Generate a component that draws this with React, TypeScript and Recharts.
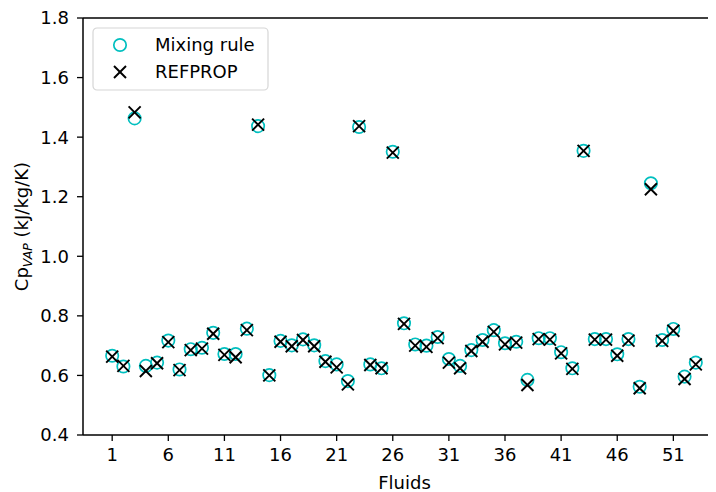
import React from "react";
import { ScatterChart, Scatter, XAxis, YAxis, ReferenceLine } from "recharts";

const fluids = [1, 2, 3, 4, 5, 6, 7, 8, 9, 10, 11, 12, 13, 14, 15, 16, 17, 18, 19, 20, 21, 22, 23, 24, 25, 26, 27, 28, 29, 30, 31, 32, 33, 34, 35, 36, 37, 38, 39, 40, 41, 42, 43, 44, 45, 46, 47, 48, 49, 50, 51, 52, 53];
const mixingRule = [0.666, 0.630, 1.463, 0.632, 0.643, 0.717, 0.620, 0.688, 0.693, 0.743, 0.672, 0.672, 0.757, 1.437, 0.601, 0.716, 0.701, 0.721, 0.701, 0.648, 0.637, 0.581, 1.434, 0.637, 0.624, 1.351, 0.775, 0.704, 0.700, 0.729, 0.655, 0.632, 0.685, 0.719, 0.752, 0.708, 0.713, 0.585, 0.725, 0.725, 0.678, 0.624, 1.354, 0.722, 0.722, 0.671, 0.722, 0.562, 1.245, 0.719, 0.756, 0.596, 0.643];
const refprop = [0.663, 0.632, 1.483, 0.615, 0.641, 0.712, 0.618, 0.685, 0.690, 0.740, 0.669, 0.661, 0.752, 1.442, 0.600, 0.713, 0.698, 0.719, 0.698, 0.646, 0.627, 0.570, 1.437, 0.635, 0.624, 1.348, 0.773, 0.700, 0.696, 0.725, 0.643, 0.624, 0.682, 0.713, 0.746, 0.704, 0.710, 0.568, 0.722, 0.720, 0.674, 0.622, 1.354, 0.720, 0.720, 0.666, 0.717, 0.557, 1.225, 0.716, 0.750, 0.588, 0.637];
const xTicks = [1, 6, 11, 16, 21, 26, 31, 36, 41, 46, 51];
const yTicks = [0.4, 0.6, 0.8, 1.0, 1.2, 1.4, 1.6, 1.8];

const mixingData = fluids.map((f, i) => ({ x: f, y: mixingRule[i] }));
const refpropData = fluids.map((f, i) => ({ x: f, y: refprop[i] }));

const FONT = "'DejaVu Sans', sans-serif";
const CYAN = "#00bfbf";

const CircleShape = (props: any) => {
  const { cx, cy } = props;
  if (cx == null || cy == null) return null;
  return <circle cx={cx} cy={cy} r={6.2} fill="none" stroke={CYAN} strokeWidth={1.7} />;
};

const CrossShape = (props: any) => {
  const { cx, cy } = props;
  if (cx == null || cy == null) return null;
  const h = 6;
  return (
    <g stroke="#000" strokeWidth={1.9}>
      <line x1={cx - h} y1={cy - h} x2={cx + h} y2={cy + h} />
      <line x1={cx - h} y1={cy + h} x2={cx + h} y2={cy - h} />
    </g>
  );
};

const YLabel = (props: any) => {
  const vb = props.viewBox || { x: 0, y: 10, width: 75, height: 417 };
  const cx = 19.5;
  const cy = vb.y + vb.height / 2;
  return (
    <text
      x={cx}
      y={cy}
      transform={`rotate(-90, ${cx}, ${cy})`}
      textAnchor="middle"
      fontFamily={FONT}
      fontSize={18}
      fill="#000"
    >
      <tspan>Cp</tspan>
      <tspan fontSize={12.6} fontStyle="italic" dy={4}>VAP</tspan>
      <tspan dy={-4}> (kJ/kg/K)</tspan>
    </text>
  );
};

const XLabel = (props: any) => {
  const vb = props.viewBox || { x: 75, y: 427, width: 633, height: 57 };
  return (
    <text x={vb.x + 321.5} y={481} textAnchor="middle" fontFamily={FONT} fontSize={18} fill="#000">
      Fluids
    </text>
  );
};

const LegendBox = () => (
  <svg
    width={178}
    height={66}
    style={{ position: "absolute", left: 84, top: 19, overflow: "visible" }}
  >
    <rect x={1} y={1} width={175} height={62} rx={4} ry={4} fill="rgba(255,255,255,0.85)" stroke="#d6d6d6" strokeWidth={1.2} />
    <circle cx={28} cy={18} r={6.2} fill="none" stroke={CYAN} strokeWidth={1.7} />
    <g stroke="#000" strokeWidth={1.9}>
      <line x1={22} y1={39} x2={34} y2={51} />
      <line x1={22} y1={51} x2={34} y2={39} />
    </g>
    <text x={63} y={24} fontFamily={FONT} fontSize={18} fill="#000">Mixing rule</text>
    <text x={63} y={51} fontFamily={FONT} fontSize={18} fill="#000">REFPROP</text>
  </svg>
);

export default function App() {
  return (
    <div style={{ position: "relative", width: 708, height: 484, overflow: "hidden" }}>
      <ScatterChart width={708} height={484} margin={{ top: 10, right: 0, bottom: 0, left: 0 }}>
        <XAxis
          type="number"
          dataKey="x"
          domain={[-1.6, 54.8]}
          allowDataOverflow
          ticks={xTicks}
          interval={0}
          height={57}
          stroke="#000"
          axisLine={{ stroke: "#000", strokeWidth: 1.5 }}
          tickLine={{ stroke: "#000", strokeWidth: 1.3 }}
          tickSize={6}
          tickMargin={7}
          tick={{ fill: "#000", fontSize: 18, fontFamily: FONT }}
          label={<XLabel />}
        />
        <YAxis
          type="number"
          dataKey="y"
          domain={[0.4, 1.8]}
          allowDataOverflow
          ticks={yTicks}
          interval={0}
          width={75}
          stroke="#000"
          axisLine={{ stroke: "#000", strokeWidth: 1.5 }}
          tickLine={{ stroke: "#000", strokeWidth: 1.3 }}
          tickSize={6}
          tickMargin={8}
          tick={{ fill: "#000", fontSize: 18, fontFamily: FONT }}
          tickFormatter={(v: number) => v.toFixed(1)}
          label={<YLabel />}
        />
        <ReferenceLine y={1.8} stroke="#000" strokeWidth={1.5} />
        <Scatter name="Mixing rule" data={mixingData} shape={<CircleShape />} isAnimationActive={false} />
        <Scatter name="REFPROP" data={refpropData} shape={<CrossShape />} isAnimationActive={false} />
      </ScatterChart>
      <LegendBox />
    </div>
  );
}
